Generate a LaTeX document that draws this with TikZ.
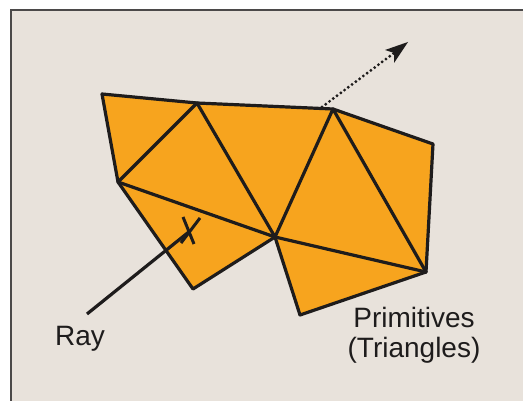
\documentclass[tikz,border=0pt]{standalone}
\usepackage{fontspec}
\setmainfont{Liberation Sans}
\definecolor{bgc}{RGB}{232,226,219}
\definecolor{tri}{RGB}{247,164,30}
\definecolor{ink}{RGB}{30,28,28}
\begin{document}
\begin{tikzpicture}[x=1pt,y=-1pt,
  edge/.style={draw=ink,line width=3.2pt,line join=round,line cap=round},
  lbl/.style={font=\fontsize{28}{30}\selectfont,text=ink,inner sep=0pt}]
\useasboundingbox (0,0) rectangle (523,401);
\fill[white] (0,0) rectangle (523,401);
\fill[bgc] (11,10) rectangle (523,401);
\draw[ink!80,line width=1.4pt] (11,401) -- (11,10) -- (523,10);
% vertices
\coordinate (A) at (102,94);
\coordinate (B) at (197,103);
\coordinate (C) at (333,109);
\coordinate (D) at (433,144);
\coordinate (E) at (426,272);
\coordinate (F) at (275,237);
\coordinate (G) at (118,182);
\coordinate (H) at (193,289);
\coordinate (I) at (300,315);
\coordinate (S) at (322,107);
\coordinate (T) at (408,42);
\coordinate (Tb) at (394,53);
\coordinate (P1) at (385,50);
\coordinate (P2) at (394,63);
\coordinate (R0) at (87,314);
\coordinate (X) at (190,231);
\coordinate (X1) at (183,217);
\coordinate (X2) at (194,244);
\coordinate (X3) at (200,218);
\coordinate (X4) at (181,243);
% fill
\fill[tri] (A) -- (B) -- (C) -- (D) -- (E) -- (I) -- (F) -- (H) -- (G) -- cycle;
% edges
\draw[edge] (A) -- (B) -- (C) -- (D) -- (E);
\draw[edge] (A) -- (G) -- (B) -- (F) -- (C) -- (E);
\draw[edge] (G) -- (F) -- (E);
\draw[edge] (G) -- (H) -- (F) -- (I) -- (E);
% ray
\draw[draw=ink,line width=3.2pt] (R0) -- (X);
\draw[draw=ink,line width=3pt] (X1) -- (X2);
\draw[draw=ink,line width=3pt] (X3) -- (X4);
% dotted arrow
\draw[draw=ink,line width=3.2pt,line cap=round,dash pattern=on 0pt off 4.7pt] (S) -- (Tb);
\fill[ink] (T) -- (P1) -- (Tb) -- (P2) -- cycle;
% labels
\node[lbl,anchor=base] (ray) at (80,345) {Ray};
\node[lbl,anchor=base,align=center] (prim) at (414,357) {Primitives\\(Triangles)};
\end{tikzpicture}
\end{document}
